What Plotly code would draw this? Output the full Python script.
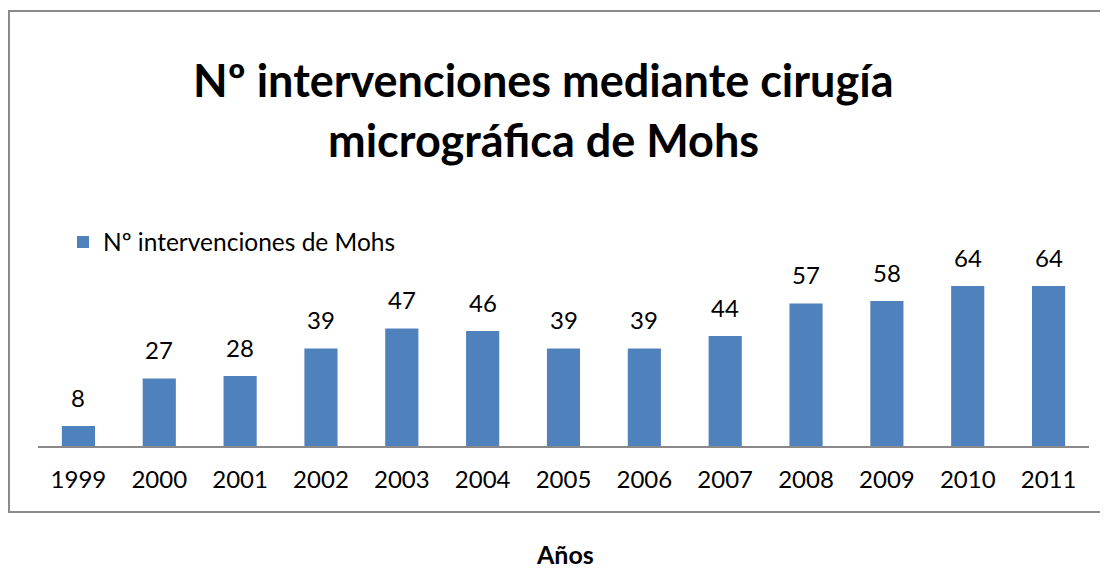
import plotly.graph_objects as go

years = ["1999", "2000", "2001", "2002", "2003", "2004", "2005",
         "2006", "2007", "2008", "2009", "2010", "2011"]
values = [8, 27, 28, 39, 47, 46, 39, 39, 44, 57, 58, 64, 64]
series_name = "Nº intervenciones de Mohs"
title_lines = ["Nº intervenciones mediante cirugía", "micrográfica de Mohs"]
x_title = "Años"

# the page adds an 8px body margin, so the figure is drawn 8px smaller
OFF = 8
W, H = 1108 - OFF, 569 - OFF
L, R = 38 - OFF, 1089 - OFF     # plot area x pixels (figure coords)
T, B = 271 - OFF, 446 - OFF     # plot area y pixels (figure coords)
ph = B - T
pw = R - L

def px_x(x):
    """reference-image pixel x -> paper coordinate"""
    return (x - OFF - L) / pw

def px_y(y):
    """reference-image pixel y -> paper coordinate"""
    return (B - (y - OFF)) / ph

FONT = "Lato, 'Open Sans', sans-serif"

fig = go.Figure()
fig.add_trace(go.Bar(
    x=years, y=values, name=series_name,
    marker=dict(color="#4F81BD", line=dict(width=0)),
    width=0.41,
    showlegend=True,
))

annotations = []
for i, v in enumerate(values):
    annotations.append(dict(
        x=i, y=v, xref="x", yref="y", text=str(v), showarrow=False,
        yanchor="middle", yshift=29,
        font=dict(family=FONT, size=24, color="#000000"),
    ))
annotations.append(dict(
    x=px_x(543), y=px_y(80), xref="paper", yref="paper", text="<b>%s</b>" % title_lines[0],
    showarrow=False, xanchor="center", yanchor="middle",
    font=dict(family=FONT, size=45, color="#000000"),
))
annotations.append(dict(
    x=px_x(543), y=px_y(140), xref="paper", yref="paper", text="<b>%s</b>" % title_lines[1],
    showarrow=False, xanchor="center", yanchor="middle",
    font=dict(family=FONT, size=45, color="#000000"),
))
annotations.append(dict(
    x=px_x(565), y=px_y(554), xref="paper", yref="paper", text="<b>%s</b>" % x_title,
    showarrow=False, xanchor="center", yanchor="middle", borderpad=0,
    font=dict(family=FONT, size=25, color="#000000"),
))

fig.update_layout(
    width=W, height=H,
    margin=dict(l=L, r=W - R, t=T, b=H - B, pad=0, autoexpand=False),
    paper_bgcolor="white", plot_bgcolor="white",
    annotations=annotations,
    showlegend=True,
    legend=dict(
        x=px_x(63), y=px_y(242), xanchor="left", yanchor="middle",
        font=dict(family=FONT, size=24.5, color="#000000"),
        bgcolor="rgba(0,0,0,0)", itemwidth=30,
    ),
    xaxis=dict(
        type="category", range=[-0.5, len(years) - 0.5], automargin=False,
        showgrid=False, zeroline=False,
        showline=True, linecolor="#898989", linewidth=2,
        ticks="", tickfont=dict(family=FONT, size=24, color="#000000"),
        ticklabelstandoff=11,
    ),
    yaxis=dict(range=[0, 70], visible=False, showgrid=False, zeroline=False, automargin=False),
    shapes=[dict(
        type="rect", xref="paper", yref="paper",
        x0=px_x(9), x1=px_x(1130), y0=px_y(512), y1=px_y(11),
        line=dict(color="#8A8A8A", width=2), fillcolor="rgba(0,0,0,0)", layer="below",
    )],
)

fig.write_html("out.html")
